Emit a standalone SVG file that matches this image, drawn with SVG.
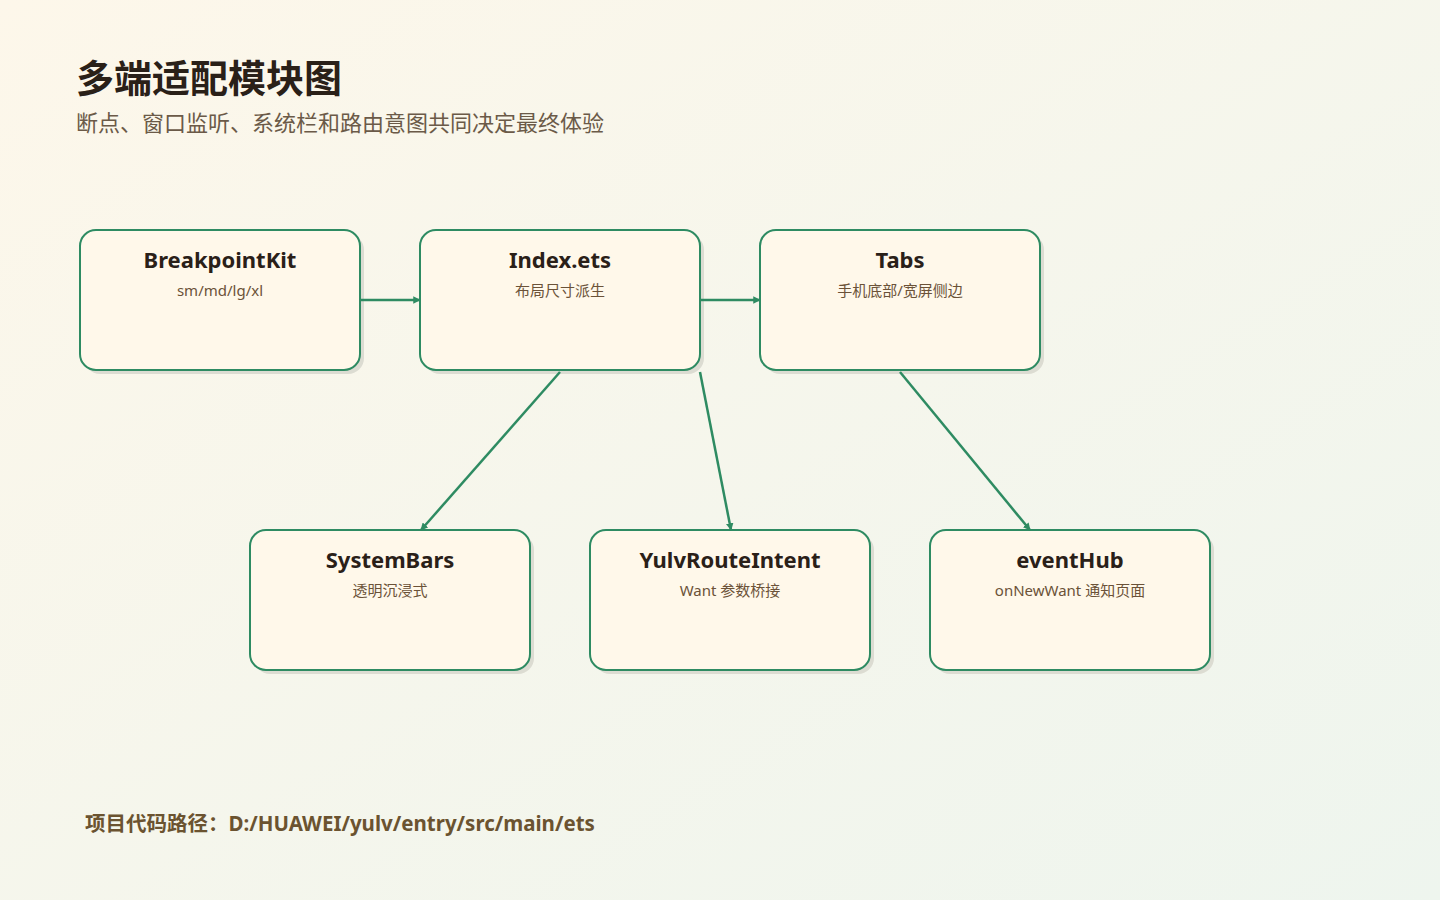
<svg xmlns="http://www.w3.org/2000/svg" width="1440" height="900" viewBox="0 0 1440 900">
<defs>
<linearGradient id="bg" x1="0" y1="0" x2="1" y2="1">
<stop offset="0" stop-color="#fdf7ea"/>
<stop offset="1" stop-color="#eef5ee"/>
</linearGradient>
<marker id="ah" viewBox="0 0 10 10" refX="9" refY="5" markerWidth="3" markerHeight="3" orient="auto" markerUnits="strokeWidth">
<path d="M0,0 L10,5 L0,10 z" fill="#2e8b62"/>
</marker>
</defs>
<style>
.box{fill:#fff8ea;stroke:#2e8b62;stroke-width:2}
.sh{fill:#dcdcd2}
.t{font-family:"Noto Sans","Noto Sans CJK SC",sans-serif;font-weight:700;font-size:22px;fill:#2a2018;text-anchor:middle}
.s{font-family:"Noto Sans","Noto Sans CJK SC",sans-serif;font-size:15px;fill:#6b5238;text-anchor:middle}
.c{fill:none;stroke:#2e8b62;stroke-width:2.5;marker-end:url(#ah)}
</style>
<rect width="1440" height="900" fill="url(#bg)"/>
<text x="76" y="92" font-family="'Noto Sans CJK SC',sans-serif" font-weight="700" font-size="38" fill="#2a2018">多端适配模块图</text>
<text x="76" y="131" font-family="'Noto Sans CJK SC',sans-serif" font-size="22" fill="#6b5a48">断点、窗口监听、系统栏和路由意图共同决定最终体验</text>
<g id="n-breakpointkit">
<rect class="sh" x="84" y="234" width="280" height="140" rx="16"/>
<rect class="box" x="80" y="230" width="280" height="140" rx="16"/>
<text class="t" x="220" y="268">BreakpointKit</text>
<text class="s" x="220" y="296">sm/md/lg/xl</text>
</g>
<g id="n-index">
<rect class="sh" x="424" y="234" width="280" height="140" rx="16"/>
<rect class="box" x="420" y="230" width="280" height="140" rx="16"/>
<text class="t" x="560" y="268">Index.ets</text>
<text class="s" x="560" y="296">布局尺寸派生</text>
</g>
<g id="n-tabs">
<rect class="sh" x="764" y="234" width="280" height="140" rx="16"/>
<rect class="box" x="760" y="230" width="280" height="140" rx="16"/>
<text class="t" x="900" y="268">Tabs</text>
<text class="s" x="900" y="296">手机底部/宽屏侧边</text>
</g>
<g id="n-systembars">
<rect class="sh" x="254" y="534" width="280" height="140" rx="16"/>
<rect class="box" x="250" y="530" width="280" height="140" rx="16"/>
<text class="t" x="390" y="568">SystemBars</text>
<text class="s" x="390" y="596">透明沉浸式</text>
</g>
<g id="n-yulvrouteintent">
<rect class="sh" x="594" y="534" width="280" height="140" rx="16"/>
<rect class="box" x="590" y="530" width="280" height="140" rx="16"/>
<text class="t" x="730" y="568">YulvRouteIntent</text>
<text class="s" x="730" y="596">Want 参数桥接</text>
</g>
<g id="n-eventhub">
<rect class="sh" x="934" y="534" width="280" height="140" rx="16"/>
<rect class="box" x="930" y="530" width="280" height="140" rx="16"/>
<text class="t" x="1070" y="568">eventHub</text>
<text class="s" x="1070" y="596">onNewWant 通知页面</text>
</g>
<g id="connectors">
<line class="c" x1="361" y1="300" x2="420" y2="300"/>
<line class="c" x1="701" y1="300" x2="760" y2="300"/>
<line class="c" x1="560" y1="372" x2="421" y2="530"/>
<line class="c" x1="700" y1="372" x2="731" y2="530"/>
<line class="c" x1="900" y1="372" x2="1030" y2="530"/>
</g>
<text x="85" y="831" font-family="'Noto Sans','Noto Sans CJK SC',sans-serif" font-weight="700" font-size="20.5" fill="#6b5330">项目代码路径：D:/HUAWEI/yulv/entry/src/main/ets</text>
</svg>
